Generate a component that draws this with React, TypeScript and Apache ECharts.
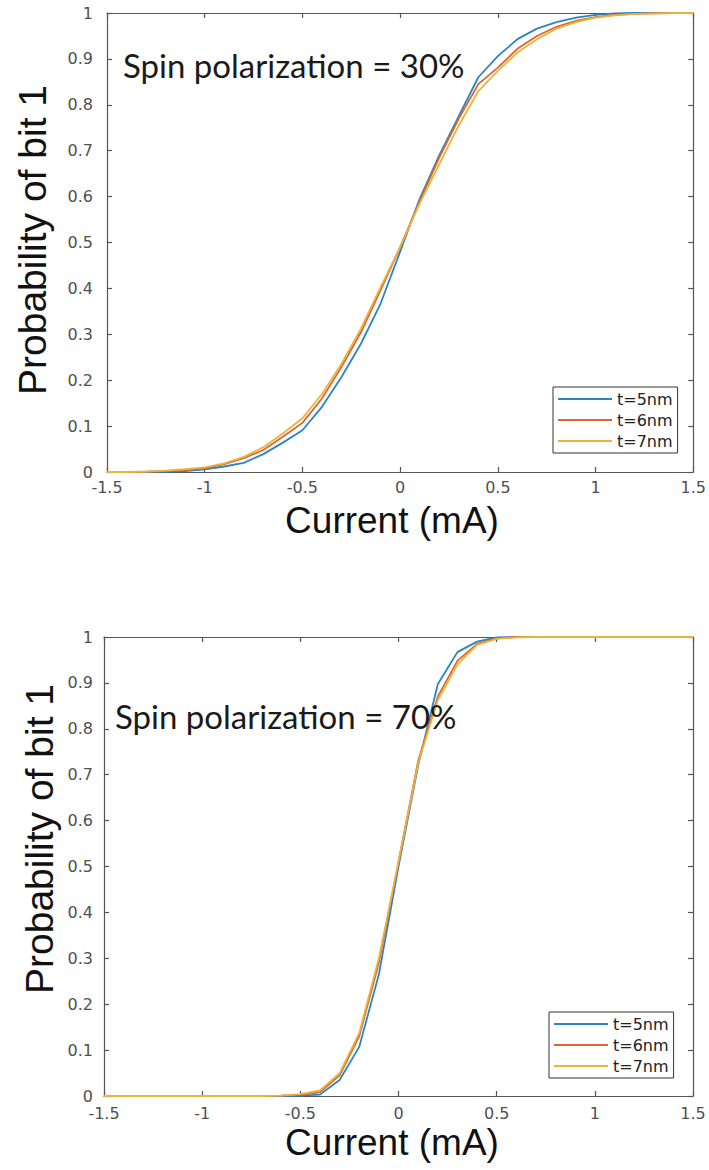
import React, { useEffect, useRef } from "react";
import * as echarts from "echarts";

const current = [-1.5, -1.4, -1.3, -1.2, -1.1, -1.0, -0.9, -0.8, -0.7, -0.6, -0.5, -0.4, -0.3, -0.2, -0.1, 0, 0.1, 0.2, 0.3, 0.4, 0.5, 0.6, 0.7, 0.8, 0.9, 1.0, 1.1, 1.2, 1.3, 1.4, 1.5];

// Spin polarization = 30%
const p30_t5 = [0, 0, 0, 0.001, 0.002, 0.006, 0.012, 0.02, 0.039, 0.064, 0.091, 0.142, 0.207, 0.28, 0.367, 0.48, 0.595, 0.69, 0.775, 0.86, 0.906, 0.943, 0.966, 0.98, 0.99, 0.996, 0.999, 1, 1, 1, 1];
const p30_t6 = [0, 0, 0.001, 0.002, 0.004, 0.008, 0.017, 0.03, 0.048, 0.077, 0.107, 0.16, 0.229, 0.305, 0.396, 0.49, 0.59, 0.685, 0.77, 0.845, 0.881, 0.922, 0.95, 0.97, 0.983, 0.991, 0.996, 0.998, 0.999, 1, 1];
const p30_t7 = [0, 0, 0.001, 0.003, 0.006, 0.01, 0.019, 0.033, 0.054, 0.084, 0.117, 0.17, 0.236, 0.313, 0.403, 0.49, 0.585, 0.67, 0.755, 0.83, 0.874, 0.914, 0.943, 0.966, 0.98, 0.99, 0.995, 0.998, 0.999, 1, 1];

// Spin polarization = 70%
const p70_t5 = [0, 0, 0, 0, 0, 0, 0, 0, 0, 0, 0.001, 0.003, 0.035, 0.107, 0.265, 0.5, 0.72, 0.897, 0.967, 0.99, 0.999, 1, 1, 1, 1, 1, 1, 1, 1, 1, 1];
const p70_t6 = [0, 0, 0, 0, 0, 0, 0, 0, 0, 0.001, 0.003, 0.008, 0.045, 0.13, 0.29, 0.51, 0.73, 0.87, 0.948, 0.985, 0.997, 1, 1, 1, 1, 1, 1, 1, 1, 1, 1];
const p70_t7 = [0, 0, 0, 0, 0, 0, 0, 0, 0, 0.001, 0.004, 0.012, 0.05, 0.137, 0.3, 0.51, 0.725, 0.862, 0.94, 0.983, 0.996, 0.999, 1, 1, 1, 1, 1, 1, 1, 1, 1];

const seriesNames = ["t=5nm", "t=6nm", "t=7nm"];
const panelTitles = ["Spin polarization = 30%", "Spin polarization = 70%"];
const xAxisName = "Current (mA)";
const yAxisName = "Probability of bit 1";

const panels = [
  { values: [p30_t5, p30_t6, p30_t7] },
  { values: [p70_t5, p70_t6, p70_t7] },
];

const colors = ["#2a84c4", "#d8672f", "#ebb33d"];

export default function App() {
  const ref = useRef<HTMLDivElement>(null);

  useEffect(() => {
    document.body.style.margin = "0";
    if (!ref.current) return;
    const chart = echarts.init(ref.current, null, { renderer: "svg" });

    const grids = [
      { left: 107, top: 13, width: 588, height: 459 },
      { left: 104, top: 637, width: 589, height: 459 },
    ];
    const legendPos = [
      { left: 553, top: 387 },
      { left: 549, top: 1012 },
    ];
    const titlePos = [
      { x: 123, y: 65 },
      { x: 115, y: 716 },
    ];
    const yNamePos = [
      { x: 32, y: 240 },
      { x: 39, y: 839 },
    ];
    const xNamePos = [
      { x: 392, y: 520 },
      { x: 392, y: 1142 },
    ];
    const yLabelMargin = [14, 11];
    const xLabelMargin = [7, 9];

    const axisLine = { show: true, onZero: false, lineStyle: { color: "#555", width: 1.2 } };
    const axisTick = { show: true, inside: true, length: 5, lineStyle: { color: "#555", width: 1.2 } };
    const labelStyle = { fontFamily: "DejaVu Sans", fontSize: 16, color: "#505050" };

    const xAxis: any[] = [];
    const yAxis: any[] = [];
    const series: any[] = [];
    const legend: any[] = [];
    const graphic: any[] = [];

    panels.forEach((panel, g) => {
      xAxis.push({
        type: "value", gridIndex: g, min: -1.5, max: 1.5, interval: 0.5, position: "bottom",
        axisLine, axisTick, splitLine: { show: false },
        axisLabel: { ...labelStyle, margin: xLabelMargin[g] },
      });
      xAxis.push({
        type: "value", gridIndex: g, min: -1.5, max: 1.5, interval: 0.5, position: "top",
        axisLine, axisTick, splitLine: { show: false }, axisLabel: { show: false },
      });
      yAxis.push({
        type: "value", gridIndex: g, min: 0, max: 1, interval: 0.1, position: "left",
        axisLine, axisTick, splitLine: { show: false },
        axisLabel: { ...labelStyle, margin: yLabelMargin[g] },
      });
      yAxis.push({
        type: "value", gridIndex: g, min: 0, max: 1, interval: 0.1, position: "right",
        axisLine, axisTick, splitLine: { show: false }, axisLabel: { show: false },
      });
      panel.values.forEach((vals, k) => {
        series.push({
          type: "line",
          name: seriesNames[k],
          xAxisIndex: 2 * g,
          yAxisIndex: 2 * g,
          data: current.map((x, i) => [x, vals[i]]),
          showSymbol: false,
          symbol: "none",
          lineStyle: { color: colors[k], width: 1.8 },
          itemStyle: { color: colors[k] },
          z: 2 + k,
        });
      });
      legend.push({
        ...legendPos[g],
        orient: "vertical",
        data: seriesNames,
        icon: "rect",
        itemWidth: 54,
        itemHeight: 2,
        itemGap: 5,
        padding: [4, 5, 4, 5],
        borderColor: "#333",
        borderWidth: 1,
        backgroundColor: "#fff",
        selectedMode: false,
        textStyle: { fontFamily: "DejaVu Sans", fontSize: 16, color: "#222", lineHeight: 16 },
      });
      graphic.push({
        type: "text",
        x: titlePos[g].x,
        y: titlePos[g].y,
        style: {
          text: panelTitles[g], fontFamily: "Lato", fontSize: 33, fill: "#1a1a1a",
          align: "left", verticalAlign: "middle",
        },
        z: 10,
      });
      graphic.push({
        type: "text",
        x: yNamePos[g].x,
        y: yNamePos[g].y,
        rotation: Math.PI / 2,
        style: {
          text: yAxisName, fontFamily: "Liberation Sans", fontSize: 39, fill: "#111",
          align: "center", verticalAlign: "middle",
        },
      });
      graphic.push({
        type: "text",
        x: xNamePos[g].x,
        y: xNamePos[g].y,
        style: {
          text: xAxisName, fontFamily: "Liberation Sans", fontSize: 37, fill: "#111",
          align: "center", verticalAlign: "middle",
        },
      });
    });

    chart.setOption({
      animation: false,
      backgroundColor: "#fff",
      grid: grids,
      xAxis,
      yAxis,
      series,
      legend,
      graphic,
    });

    return () => chart.dispose();
  }, []);

  return <div ref={ref} style={{ width: 709, height: 1170 }} />;
}
